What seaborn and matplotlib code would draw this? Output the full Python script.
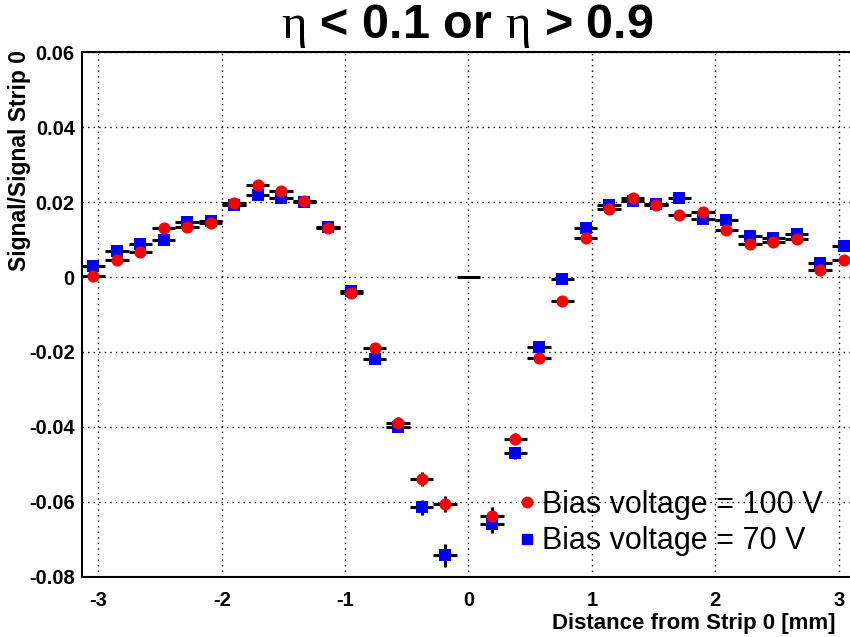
import numpy as np
import pandas as pd
import matplotlib
matplotlib.use("Agg")
import matplotlib.pyplot as plt
from matplotlib.lines import Line2D
from matplotlib.ticker import MultipleLocator, FixedLocator
import seaborn as sns

# ---------------- data ----------------
positions = [-3.04, -2.85, -2.66, -2.47, -2.28, -2.09, -1.90, -1.71, -1.52, -1.33,
             -1.14, -0.95, -0.76, -0.57, -0.38, -0.19,
             0.19, 0.38, 0.57, 0.76, 0.95, 1.14, 1.33, 1.52, 1.71, 1.90,
             2.09, 2.28, 2.47, 2.66, 2.85, 3.04]

ratio_100V = [0.0003, 0.0046, 0.0067, 0.0131, 0.0133, 0.0144, 0.0197, 0.0247, 0.0229, 0.0202,
              0.0132, -0.0043, -0.0189, -0.0389, -0.0540, -0.0606,
              -0.0637, -0.0432, -0.0215, -0.0064, 0.0105, 0.0182, 0.0211, 0.0193, 0.0165, 0.0173,
              0.0125, 0.0089, 0.0093, 0.0101, 0.0018, 0.0045]

ratio_70V = [0.0030, 0.0069, 0.0089, 0.0098, 0.0147, 0.0149, 0.0191, 0.0218, 0.0211, 0.0200,
             0.0133, -0.0036, -0.0218, -0.0400, -0.0615, -0.0743,
             -0.0658, -0.0469, -0.0187, -0.0004, 0.0131, 0.0191, 0.0203, 0.0196, 0.0212, 0.0156,
             0.0151, 0.0109, 0.0105, 0.0116, 0.0037, 0.0083]

err_100V = [0.001, 0.001, 0.001, 0.0012, 0.001, 0.001, 0.001, 0.001, 0.001, 0.001,
            0.001, 0.001, 0.0012, 0.0015, 0.0019, 0.0021,
            0.0022, 0.0015, 0.0012, 0.001, 0.001, 0.001, 0.001, 0.001, 0.001, 0.001,
            0.001, 0.001, 0.001, 0.001, 0.001, 0.001]

err_70V = [0.001, 0.001, 0.001, 0.001, 0.001, 0.001, 0.001, 0.001, 0.001, 0.001,
           0.001, 0.001, 0.0012, 0.0015, 0.0021, 0.0031,
           0.0025, 0.0016, 0.0012, 0.001, 0.001, 0.001, 0.001, 0.001, 0.001, 0.001,
           0.001, 0.001, 0.001, 0.001, 0.001, 0.001]

bin_halfwidth = 0.095
center_x = [0.0]
center_y = [0.0]

labels = ["Bias voltage = 100 V", "Bias voltage = 70 V"]
title = r"$\eta$ < 0.1 or $\eta$ > 0.9"
xlabel = "Distance from Strip 0 [mm]"
ylabel = "Signal/Signal Strip 0"
xticks = [-3, -2, -1, 0, 1, 2, 3]
yticks = [-0.08, -0.06, -0.04, -0.02, 0.0, 0.02, 0.04, 0.06]
yticklabels = ["-0.08", "-0.06", "-0.04", "-0.02", "0", "0.02", "0.04", "0.06"]

# ---------------- style ----------------
sns.set_theme(style="white")
plt.rcParams["font.family"] = ["Liberation Sans", "DejaVu Sans"]
plt.rcParams["mathtext.fontset"] = "custom"
plt.rcParams["mathtext.it"] = "Liberation Serif"
plt.rcParams["mathtext.rm"] = "Liberation Serif"
for key in ["text.color", "axes.labelcolor", "xtick.color", "ytick.color",
            "axes.edgecolor"]:
    plt.rcParams[key] = "black"

fig = plt.figure(figsize=(8.5, 6.37), dpi=100)
W, H = 850.0, 637.0
left, right, top, bottom = 81.7, 855.3, 52.3, 576.7
ax = fig.add_axes([left / W, 1 - bottom / H, (right - left) / W, (bottom - top) / H])

df70 = pd.DataFrame({"x": positions, "y": ratio_70V})
df100 = pd.DataFrame({"x": positions, "y": ratio_100V})

# error bars
ax.errorbar(positions, ratio_70V, xerr=bin_halfwidth, yerr=err_70V, fmt="none",
            ecolor="black", elinewidth=2.2, capsize=0, zorder=2)
ax.errorbar(positions, ratio_100V, xerr=bin_halfwidth, yerr=err_100V, fmt="none",
            ecolor="black", elinewidth=2.2, capsize=0, zorder=2)
ax.errorbar(center_x, center_y, xerr=bin_halfwidth, fmt="none",
            ecolor="black", elinewidth=2.2, capsize=0, zorder=2)

sns.scatterplot(data=df70, x="x", y="y", ax=ax, color="blue", marker="s", s=64,
                linewidth=0, zorder=3, legend=False)
sns.scatterplot(data=df100, x="x", y="y", ax=ax, color="red", marker="o", s=76,
                linewidth=0, zorder=4, legend=False)

ax.set_xlim(-3.135, 3.135)
ax.set_ylim(-0.08, 0.06)

ax.xaxis.set_major_locator(FixedLocator(xticks))
ax.xaxis.set_minor_locator(MultipleLocator(0.2))
ax.yaxis.set_major_locator(FixedLocator(yticks))
ax.yaxis.set_minor_locator(MultipleLocator(0.005))
ax.set_xticklabels([str(t) for t in xticks])
ax.set_yticklabels(yticklabels)

ax.tick_params(axis="both", which="major", direction="in", length=12, width=1,
               color="black", labelcolor="black", labelsize=14.5, top=False, right=False)
ax.tick_params(axis="both", which="minor", direction="in", length=6, width=1,
               color="black", top=False, right=False)
ax.tick_params(axis="x", which="major", pad=10)
ax.tick_params(axis="y", which="major", pad=5)
for lab in ax.get_xticklabels() + ax.get_yticklabels():
    lab.set_fontweight("bold")

ax.grid(True, which="major", color="black", linestyle=(0, (1, 3)), linewidth=1.0)
for sp in ax.spines.values():
    sp.set_color("black")
    sp.set_linewidth(1.5)

ax.set_xlabel("")
ax.set_ylabel("")
fig.text(835 / W, 1 - 624 / H, xlabel, ha="right", va="center", fontsize=16,
         fontweight="bold", color="black")
fig.text(20 / W, 1 - 50 / H, ylabel, ha="center", va="top", rotation=90,
         fontsize=16.5, fontweight="bold", color="black")

fig.text(467 / W, 1 - 26 / H, title, ha="center", va="center", fontsize=35,
         fontweight="bold", color="black")

handles = [Line2D([0], [0], marker="o", color="red", linestyle="none", markersize=7.5),
           Line2D([0], [0], marker="s", color="blue", linestyle="none", markersize=7)]
leg = ax.legend(handles, labels, loc="upper left", bbox_to_anchor=(518 / W, 1 - 490 / H),
                bbox_transform=fig.transFigure, frameon=False, fontsize=22,
                handlelength=0.6, handletextpad=0.2, borderpad=0, borderaxespad=0,
                labelspacing=0.21)
for t in leg.get_texts():
    t.set_color("black")

fig.savefig("out.png", dpi=100)
